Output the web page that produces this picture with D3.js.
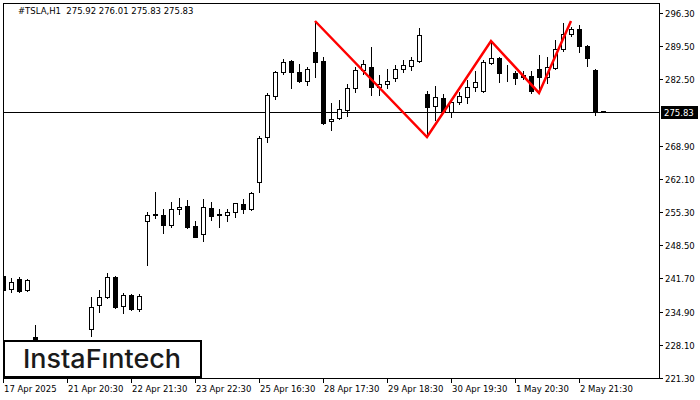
<!DOCTYPE html>
<html><head><meta charset="utf-8">
<script src="https://cdn.jsdelivr.net/npm/d3@7"></script>
<style>html,body{margin:0;padding:0;background:#fff;}svg{display:block;}</style>
</head><body>
<svg id="chart" width="700" height="400"></svg>
<script>
const title = "#TSLA,H1  275.92 276.01 275.83 275.83";
const opens  = [242.19,239.53,241.58,239.33,229.70,228.46,226.63,224.58,227.04,224.99,226.01,231.34,236.25,237.89,241.99,236.05,238.30,235.43,253.46,254.69,254.69,252.64,255.92,256.53,252.43,250.80,256.12,254.89,254.69,255.30,256.94,255.92,261.45,270.66,279.06,283.98,286.23,283.98,282.13,288.08,286.23,273.94,274.56,276.19,280.70,284.39,285.00,280.91,281.52,282.75,284.59,285.21,286.23,279.47,277.01,278.65,275.78,277.83,278.86,280.91,280.09,285.82,286.85,283.77,283.77,283.36,283.16,284.59,282.95,284.80,288.69,291.76,292.79,289.30,284.39,275.92];
const highs  = [242.60,241.78,241.99,241.58,232.15,229.08,227.44,227.85,228.06,228.67,228.88,237.89,239.33,242.81,242.19,238.71,238.50,238.50,255.30,259.40,255.92,257.35,258.17,257.76,253.46,257.97,257.35,255.92,255.92,257.14,257.97,259.40,270.87,279.68,284.18,286.64,286.44,285.62,285.00,294.42,287.05,277.62,278.24,281.52,285.00,286.44,289.10,283.36,284.59,285.41,286.44,287.05,292.99,280.09,281.11,279.47,278.24,279.88,282.34,284.18,286.44,290.33,287.05,285.41,284.18,284.18,284.18,287.46,287.05,290.53,294.02,293.20,293.61,289.50,284.59,276.01];
const lows   = [238.91,238.91,238.91,239.12,227.44,225.40,223.35,223.76,223.96,224.37,225.40,229.90,234.82,237.69,235.64,234.61,235.23,235.02,244.45,254.07,250.98,252.23,254.89,252.02,250.18,249.36,253.66,252.23,253.46,254.28,255.10,255.71,259.40,269.64,278.45,283.57,280.70,281.93,281.32,282.95,273.33,272.10,274.35,274.97,279.88,283.57,279.27,279.27,280.70,282.13,283.98,284.39,286.03,270.66,274.15,275.58,274.76,277.42,277.62,280.09,279.88,285.62,281.93,282.13,281.52,282.54,279.68,279.68,281.72,284.59,288.28,291.35,288.08,285.21,275.17,275.83];
const closes = [239.33,240.96,239.12,241.37,228.46,226.63,224.58,227.04,224.99,228.06,228.67,235.84,237.89,241.99,235.84,238.30,235.43,238.10,254.69,254.89,252.64,255.92,256.33,252.23,250.18,256.33,254.48,254.69,255.30,257.14,255.92,259.20,270.46,279.27,283.98,286.03,283.98,282.13,284.59,286.03,273.53,274.35,276.40,280.70,284.39,285.62,280.91,281.52,282.13,284.59,285.41,286.44,291.56,276.81,278.86,275.78,277.83,279.06,280.91,281.93,286.03,286.85,283.77,283.72,282.75,282.95,280.09,282.95,285.00,288.69,291.76,292.79,289.30,286.85,275.90,275.83];
const xTickIdx = [0,8,16,24,32,40,48,56,64,72];
const xTickLabels = ["17 Apr 2025","21 Apr 20:30","22 Apr 21:30","23 Apr 22:30","25 Apr 16:30","28 Apr 17:30","29 Apr 18:30","30 Apr 19:30","1 May 20:30","2 May 21:30"];
const yTickValues = [221.3,228.1,234.9,241.7,248.5,255.3,262.1,268.9,282.5,289.3,296.1];
const yTickLabels = ["221.30","228.10","234.90","241.70","248.50","255.30","262.10","268.90","282.50","289.50","296.30"];
const lastPrice = 275.83;
const lastPriceLabel = "275.83";
const zigIdx = [39,53,61,67,71];
const zigPrice = [294.42,270.66,290.33,279.68,294.42];
const logoText = "InstaFıntech";

const svg = d3.select("#chart");
const L = 3, R = 659, T = 3, B = 379;
const x = d3.scaleLinear().domain([0, opens.length - 1]).range([3, 603]);
const y = d3.scaleLinear().domain([221.3, 296.1]).range([378, 12.8]);
const font = "DejaVu Sans, sans-serif";

svg.append("rect").attr("width",700).attr("height",400).attr("fill","#fff");

svg.append("defs").append("clipPath").attr("id","clip")
  .append("rect").attr("x",L+1).attr("y",T+1).attr("width",R-L-1).attr("height",B-T-1);

const plot = svg.append("g").attr("clip-path","url(#clip)");

// last price line
plot.append("line")
  .attr("x1",L).attr("x2",R)
  .attr("y1",Math.round(y(lastPrice))+0.5).attr("y2",Math.round(y(lastPrice))+0.5)
  .attr("stroke","#000").attr("stroke-width",1);

const data = opens.map((o,i)=>({i,o,h:highs[i],l:lows[i],c:closes[i]}));
const g = plot.selectAll("g.c").data(data).join("g").attr("class","c");
g.append("line")
  .attr("x1",d=>Math.round(x(d.i))+0.5).attr("x2",d=>Math.round(x(d.i))+0.5)
  .attr("y1",d=>Math.round(y(d.h))).attr("y2",d=>Math.round(y(d.l))+1)
  .attr("stroke","#000").attr("stroke-width",1);
g.append("rect")
  .attr("x",d=>Math.round(x(d.i))-2+0.5)
  .attr("y",d=>Math.round(y(Math.max(d.o,d.c)))+0.5)
  .attr("width",4)
  .attr("height",d=>Math.max(0, Math.round(y(Math.min(d.o,d.c))) - Math.round(y(Math.max(d.o,d.c)))))
  .attr("fill",d=>d.c>=d.o?"#fff":"#000")
  .attr("stroke","#000").attr("stroke-width",1);

// red pattern
const zig = zigIdx.map((v,k)=>[x(v), y(zigPrice[k])]);
plot.append("path").attr("d", d3.line()(zig))
  .attr("fill","none").attr("stroke","#ff0000").attr("stroke-width",2.5).attr("stroke-linejoin","miter");

// frame
svg.append("rect").attr("x",L+0.5).attr("y",T+0.5).attr("width",R-L).attr("height",B-T-1)
  .attr("fill","none").attr("stroke","#000").attr("stroke-width",1);

// y axis ticks and labels
const ya = svg.append("g");
yTickValues.forEach((v,k)=>{
  const yy = Math.round(y(v))+0.5;
  ya.append("line").attr("x1",R).attr("x2",R+4).attr("y1",yy).attr("y2",yy).attr("stroke","#000");
  ya.append("text").attr("x",R+6).attr("y",yy+3).text(yTickLabels[k])
    .attr("font-family",font).attr("font-size","8.5px").attr("fill","#000");
});
// last price marker
const ly = Math.round(y(lastPrice));
svg.append("rect").attr("x",R+2).attr("y",ly-6).attr("width",37).attr("height",13).attr("fill","#000");
svg.append("text").attr("x",R+5).attr("y",ly+3.5).text(lastPriceLabel)
  .attr("font-family",font).attr("font-size","8.5px").attr("fill","#fff");

// x axis ticks and labels
const xa = svg.append("g");
xTickIdx.forEach((v,k)=>{
  const xx = Math.round(x(v))+0.5;
  xa.append("line").attr("x1",xx).attr("x2",xx).attr("y1",B).attr("y2",B+4).attr("stroke","#000");
  xa.append("text").attr("x",xx+0.5).attr("y",392).text(xTickLabels[k])
    .attr("font-family",font).attr("font-size","8.5px").attr("fill","#000");
});

// title
svg.append("text").attr("x",18).attr("y",14).text(title).attr("xml:space","preserve")
  .style("white-space","pre")
  .attr("font-family",font).attr("font-size","8.5px").attr("fill","#000");

// logo
svg.append("rect").attr("x",4).attr("y",341).attr("width",197).attr("height",36)
  .attr("fill","#fff").attr("stroke","#000").attr("stroke-width",2);
svg.append("text").attr("x",102).attr("y",368).attr("text-anchor","middle")
  .attr("textLength",158).attr("lengthAdjust","spacingAndGlyphs")
  .text(logoText).attr("font-family","Inter, Lato, sans-serif").attr("font-weight",500)
  .attr("font-size","26px").attr("fill","#1a1a1a");
</script>
</body></html>
